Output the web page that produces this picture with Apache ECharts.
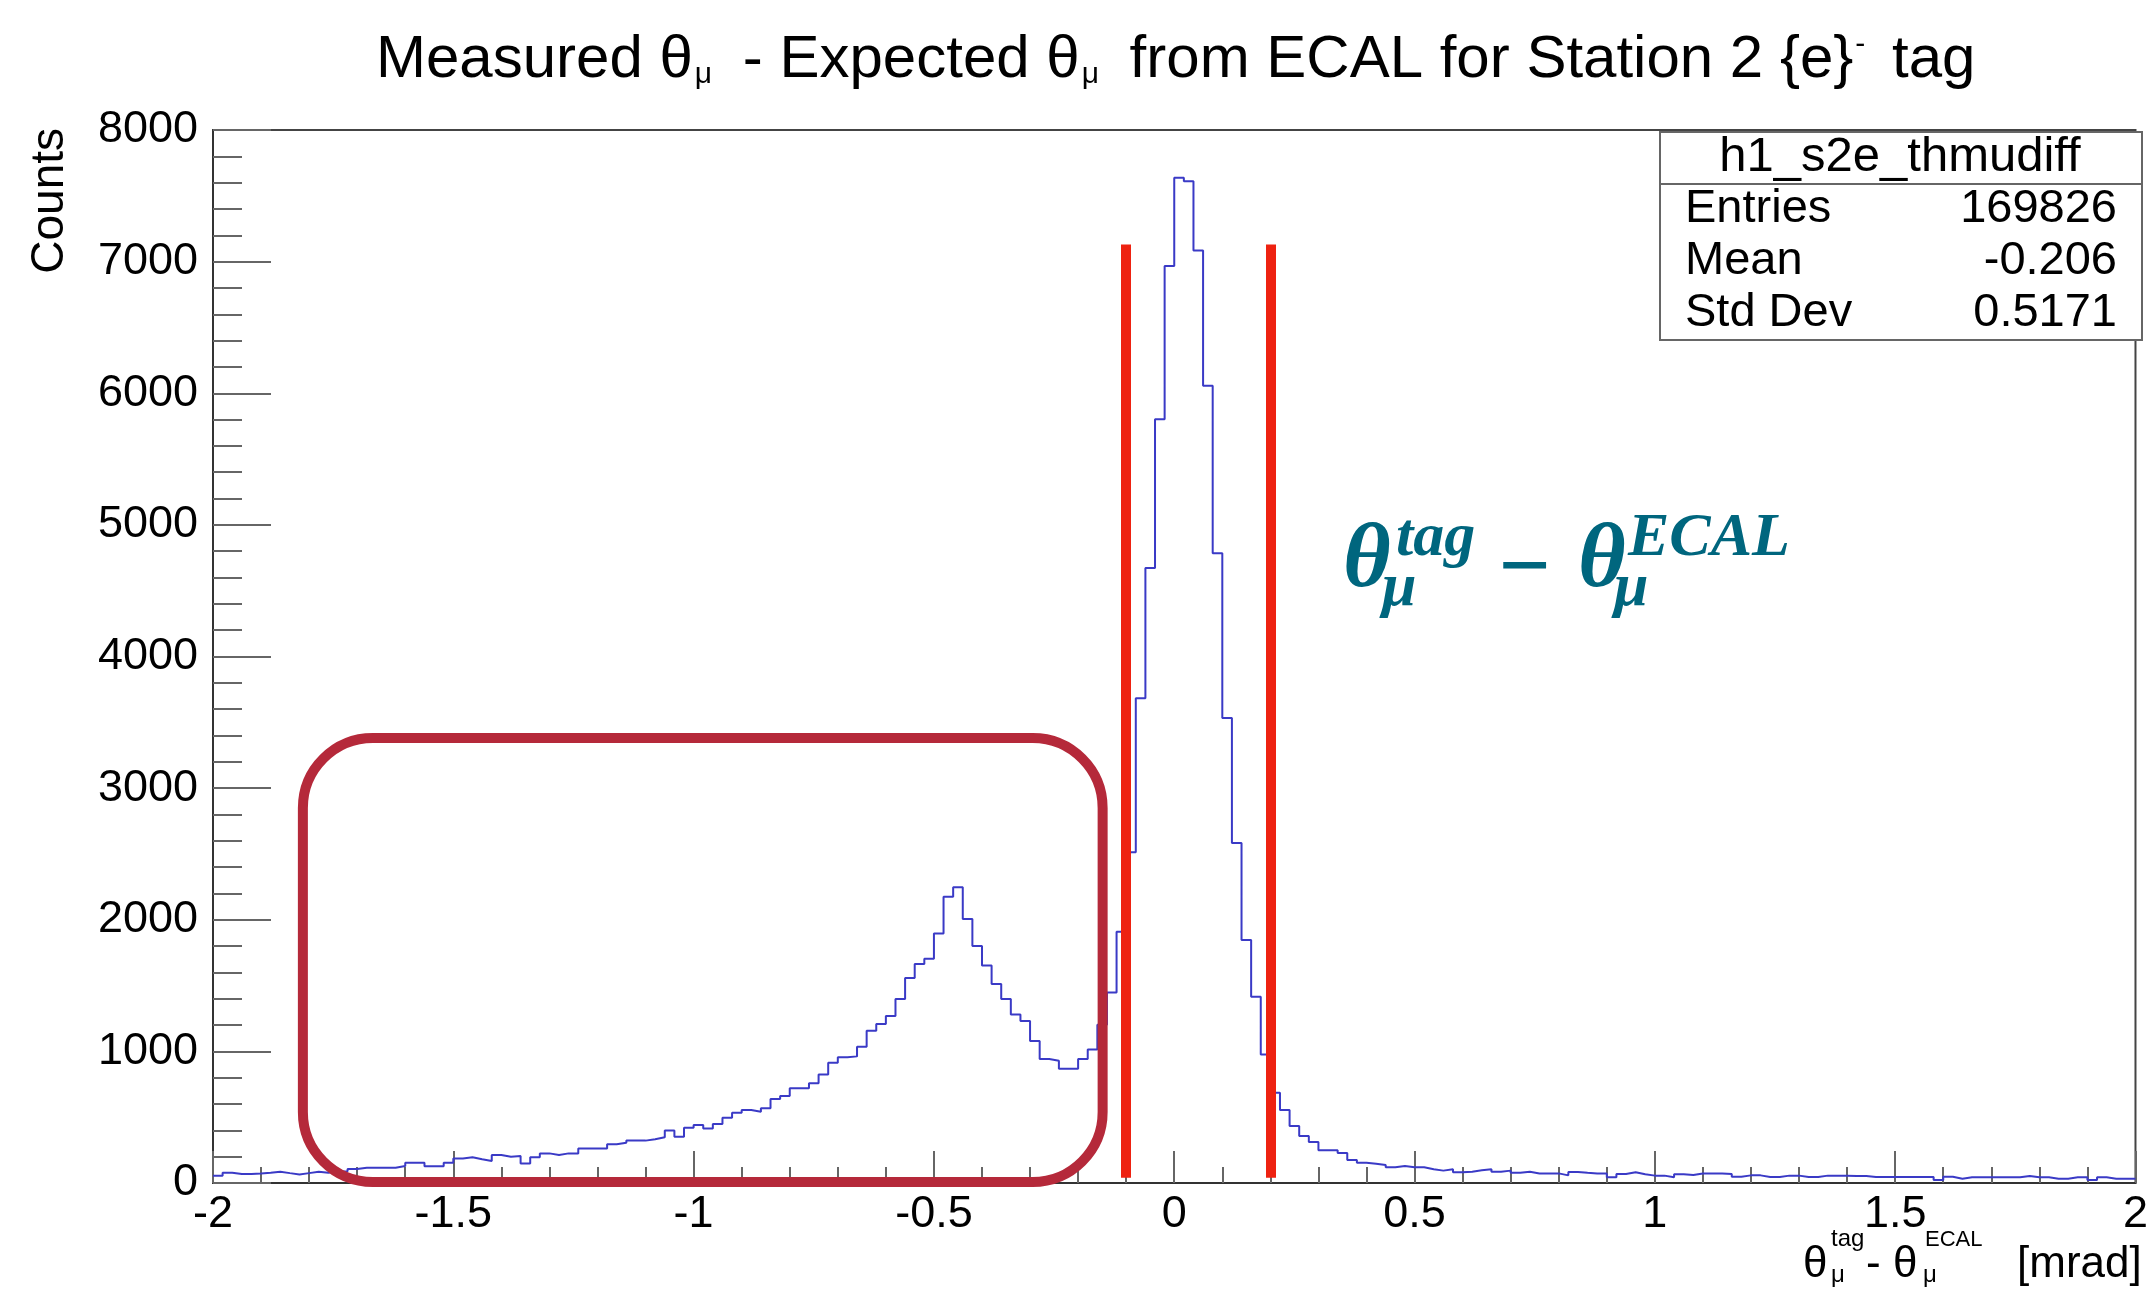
<!DOCTYPE html>
<html><head><meta charset="utf-8">
<script src="https://cdn.jsdelivr.net/npm/echarts@6/dist/echarts.min.js"></script>
<style>html,body{margin:0;padding:0;background:#fff}#c{width:2151px;height:1289px}</style>
</head><body><div id="c"></div>
<script>
// ---- data ----
const binMin = -2;
const binWidth = 0.02;
const counts = [
  56, 78, 68, 68, 72, 78, 85, 75, 65, 75,
  85, 78, 88, 90, 106, 116, 116, 116, 116, 129,
  154, 154, 127, 127, 154, 187, 195, 180, 167, 213,
  200, 205, 149, 195, 225, 213, 225, 225, 263, 263,
  263, 294, 306, 322, 322, 332, 347, 398, 352, 420,
  441, 415, 448, 496, 534, 555, 542, 567, 638, 661,
  719, 719, 757, 825, 914, 955, 962, 1036, 1157, 1208,
  1268, 1398, 1557, 1664, 1704, 1896, 2175, 2246, 2005, 1800,
  1653, 1512, 1398, 1281, 1231, 1079, 942, 929, 868, 868,
  942, 1015, 1203, 1448, 1909, 2512, 3683, 4673, 5803, 6966,
  7637, 7610, 7085, 6057, 4785, 3533, 2584, 1846, 1415, 977,
  686, 554, 433, 357, 311, 248, 248, 228, 175, 154,
  147, 137, 119, 129, 119, 119, 104, 94, 104, 81,
  86, 96, 104, 86, 94, 78, 86, 73, 73, 73,
  58, 84, 78, 73, 73, 43, 68, 81, 66, 56,
  56, 43, 66, 61, 73, 73, 73, 68, 48, 58,
  58, 46, 46, 56, 56, 46, 46, 56, 56, 56,
  53, 53, 46, 46, 46, 46, 46, 46, 46, 23,
  48, 33, 43, 43, 43, 43, 43, 43, 53, 43,
  43, 33, 33, 43, 43, 23, 43, 33, 33, 33
];
const xRange = [-2, 2];
const yRange = [0, 8000];
const cutValues = [-0.1, 0.2];
const cutSpan = [40, 7130];
const boxXRange = [-1.813, -0.149];
const boxYRange = [8, 3381];
const statsTitle = 'h1_s2e_thmudiff';
const statLabels = ['Entries', 'Mean', 'Std Dev'];
const statValues = ['169826', '-0.206', '0.5171'];

// ---- build ----
const points = counts.map((v, i) => [binMin + i * binWidth, v]);
points.push([binMin + counts.length * binWidth, counts[counts.length - 1]]);

const SANS = 'Liberation Sans, Helvetica, Arial, sans-serif';
const SERIF = 'Liberation Serif, Times New Roman, serif';
const TEAL = '#00667e';

const chart = echarts.init(document.getElementById('c'), null, {renderer: 'canvas'});

const option = {
  animation: false,
  backgroundColor: '#ffffff',
  title: {
    left: 376, top: 30, padding: 0,
    text: '{n|Measured θ}{s|μ}{n| - Expected θ}{s|μ}{n| from ECAL for Station 2 }{e}{p|-}{n| tag}',
    textStyle: {
      fontFamily: SANS, fontSize: 60, fontWeight: 'normal', color: '#000', lineHeight: 60,
      rich: {
        n: {fontFamily: SANS, fontSize: 60, color: '#000', lineHeight: 60},
        s: {fontFamily: SANS, fontSize: 30, color: '#000', lineHeight: 12, verticalAlign: 'bottom', padding: [0, 14, 0, 2]},
        p: {fontFamily: SANS, fontSize: 30, color: '#000', lineHeight: 12, verticalAlign: 'top', padding: [0, 10, 0, 2]}
      }
    }
  },
  grid: {left: 213, right: 10, top: 130, bottom: 106, show: true, borderColor: '#444', borderWidth: 2, backgroundColor: 'transparent'},
  xAxis: {
    type: 'value', min: xRange[0], max: xRange[1], interval: 0.5,
    axisLine: {show: true, onZero: false, lineStyle: {color: '#333', width: 2}},
    axisTick: {show: true, inside: true, length: 32, lineStyle: {color: '#666', width: 2}},
    minorTick: {show: true, splitNumber: 5, length: 16, lineStyle: {color: '#666', width: 2}},
    axisLabel: {fontFamily: SANS, fontSize: 45, color: '#000', margin: 9, showMinLabel: true, showMaxLabel: true,
      formatter: v => String(v)},
    splitLine: {show: false}
  },
  yAxis: {
    type: 'value', min: yRange[0], max: yRange[1], interval: 1000,
    axisLine: {show: true, onZero: false, lineStyle: {color: '#333', width: 2}},
    axisTick: {show: true, inside: true, length: 58, lineStyle: {color: '#666', width: 2}},
    minorTick: {show: true, splitNumber: 5, length: 29, lineStyle: {color: '#666', width: 2}},
    axisLabel: {fontFamily: SANS, fontSize: 45, color: '#000', margin: 15, formatter: v => String(v)},
    splitLine: {show: false}
  },
  series: [{
    type: 'line', step: 'end', data: points, symbol: 'none', silent: true,
    lineStyle: {color: '#3a3ac6', width: 2},
    markLine: {
      silent: true, symbol: ['none', 'none'], label: {show: false},
      lineStyle: {color: '#ee2211', width: 10, type: 'solid'},
      data: cutValues.map(c => [{coord: [c, cutSpan[0]]}, {coord: [c, cutSpan[1]]}])
    }
  }]
};
chart.setOption(option);

// annotation box, from data coordinates
const p1 = chart.convertToPixel({gridIndex: 0}, [boxXRange[0], boxYRange[1]]);
const p2 = chart.convertToPixel({gridIndex: 0}, [boxXRange[1], boxYRange[0]]);

// text placed by its baseline (canvas 'middle' sits ~0.3465em above baseline for Liberation Sans)
function txt(x, base, text, size, opts) {
  return {type: 'text', x: x, y: base - 0.3465 * size, z: 20,
    style: Object.assign({text: text, fontSize: size, fontFamily: SANS, fill: '#000', verticalAlign: 'middle'}, opts || {})};
}
// text placed by its vertical centre
function ctxt(x, mid, text, size, opts) {
  return {type: 'text', x: x, y: mid, z: 20,
    style: Object.assign({text: text, fontSize: size, fontFamily: SANS, fill: '#000', verticalAlign: 'middle'}, opts || {})};
}
function tealTxt(x, base, text, size) {
  return {type: 'text', x: x, y: base - 0.3375 * size, z: 20,
    style: {text: text, fontSize: size, fontFamily: SERIF, fontStyle: 'italic', fontWeight: 'bold', fill: TEAL, verticalAlign: 'middle'}};
}

const graphics = [
  {type: 'rect', z: 15, shape: {x: p1[0], y: p1[1], width: p2[0] - p1[0], height: p2[1] - p1[1], r: 70},
   style: {fill: 'none', stroke: '#b5293a', lineWidth: 10}},
  // stats box
  {type: 'rect', z: 18, shape: {x: 1660, y: 132, width: 482, height: 208},
   style: {fill: '#fff', stroke: '#666', lineWidth: 2}},
  {type: 'line', z: 19, shape: {x1: 1660, y1: 184, x2: 2142, y2: 184}, style: {stroke: '#666', lineWidth: 2}},
  ctxt(1900, 157, statsTitle, 49, {align: 'center'}),
  ctxt(1685, 209, statLabels[0], 47), ctxt(2117, 209, statValues[0], 47, {align: 'right'}),
  ctxt(1685, 261, statLabels[1], 47), ctxt(2117, 261, statValues[1], 47, {align: 'right'}),
  ctxt(1685, 313, statLabels[2], 47), ctxt(2117, 313, statValues[2], 47, {align: 'right'}),
  // y axis title
  {type: 'text', x: 50, y: 128, rotation: Math.PI / 2, z: 20,
   style: {text: 'Counts', fontSize: 46, fontFamily: SANS, fill: '#000', align: 'right', verticalAlign: 'middle'}},
  // x axis title
  txt(1803, 1280, 'θ', 44),
  txt(1831, 1248, 'tag', 24),
  txt(1831, 1284, 'μ', 24),
  txt(1866, 1280, '- θ', 44),
  txt(1925, 1248, 'ECAL', 22),
  txt(1923, 1284, 'μ', 24),
  txt(2017, 1280, '[mrad]', 44),
  // teal formula
  tealTxt(1343, 593, 'θ', 92),
  tealTxt(1396, 560, 'tag', 62),
  tealTxt(1382, 610, 'μ', 62),
  tealTxt(1496, 603, '−', 92),
  tealTxt(1578, 593, 'θ', 92),
  tealTxt(1628, 560, 'ECAL', 62),
  tealTxt(1614, 610, 'μ', 62)
];
chart.setOption({graphic: graphics});
</script>
</body></html>
